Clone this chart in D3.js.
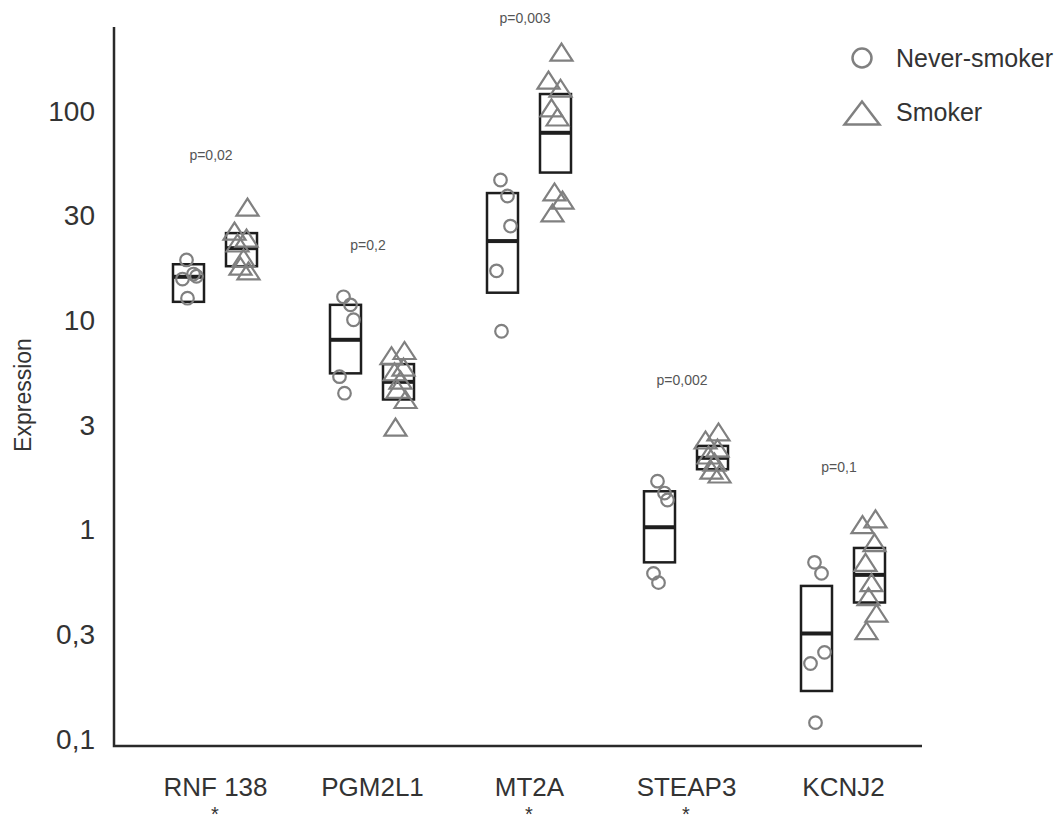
<!DOCTYPE html>
<html>
<head>
<meta charset="utf-8">
<script src="https://cdn.jsdelivr.net/npm/d3@7"></script>
<style>
  body { margin: 0; background: #fff; }
  svg { display: block; font-family: "Liberation Sans", Arial, sans-serif; }
</style>
</head>
<body>
<svg id="chart" width="1064" height="828"></svg>
<script>
// ---- data ----
const genes = ["RNF 138", "PGM2L1", "MT2A", "STEAP3", "KCNJ2"];
const significant = [true, false, true, true, false];
const pLabels = ["p=0,02", "p=0,2", "p=0,003", "p=0,002", "p=0,1"];

const neverSmoker = [
  [19.5, 16.7, 16.3, 15.8, 12.8],
  [13.0, 11.9, 10.1, 5.4, 4.5],
  [47, 39.4, 28.3, 17.3, 8.9],
  [1.71, 1.50, 1.39, 0.62, 0.56],
  [0.70, 0.62, 0.26, 0.23, 0.12]
];
const smoker = [
  [34.9, 26.8, 24.8, 23.5, 19.9, 18.2, 17.3],
  [7.2, 6.8, 6.0, 5.7, 5.2, 4.7, 4.2, 3.1],
  [192, 141, 129, 104, 94, 41.2, 37.7, 32.7],
  [2.94, 2.69, 2.46, 2.28, 2.11, 1.93, 1.85],
  [1.13, 1.06, 0.87, 0.70, 0.56, 0.48, 0.40, 0.33]
];
// box: [low, centre line, high]
const neverBox = [
  [12.3, 16.2, 18.6],
  [5.6, 8.1, 11.9],
  [13.6, 24.0, 40.7],
  [0.70, 1.03, 1.53],
  [0.17, 0.32, 0.54]
];
const smokerBox = [
  [18.2, 22.2, 26.2],
  [4.2, 5.1, 6.2],
  [51, 79, 121],
  [1.95, 2.21, 2.52],
  [0.45, 0.61, 0.82]
];

const yTickValues = [0.1, Math.sqrt(0.1), 1, Math.sqrt(10), 10, Math.sqrt(1000), 100];
const yTickLabels = ["0,1", "0,3", "1", "3", "10", "30", "100"];
const groups = ["Never-smoker", "Smoker"];

// ---- layout ----
const plot = { left: 114, right: 922, top: 27, bottom: 746 };
const POINT_COLOR = "#808080";
const BOX_COLOR = "#1e1e1e";
const TEXT_COLOR = "#333";
const BOX_W = 31;
// small horizontal spread so the dots don't sit on one line
const circleJitter = [-2, 5, 8, -6, -1];
const triJitter = [6, -7, 5, -4, 2, -1, 7, -3];

const svg = d3.select("#chart");

const x = d3.scalePoint().domain(genes).range([215, 843]);
const sub = d3.scalePoint().domain(groups).range([-26.5, 26.5]);
const y = d3.scaleLog().domain([0.0928, 253]).range([plot.bottom, plot.top]);

const triPath = (cx, cy, w, h) =>
  `M${cx - w / 2},${cy + h / 2}L${cx},${cy - h / 2}L${cx + w / 2},${cy + h / 2}Z`;

// y axis
const yAxis = svg.append("g")
  .attr("transform", `translate(${plot.left},0)`)
  .call(d3.axisLeft(y).tickValues(yTickValues)
    .tickFormat((d, i) => yTickLabels[i]).tickSize(0).tickSizeOuter(0).tickPadding(19));
yAxis.select(".domain").remove();
yAxis.selectAll("text").attr("font-size", 28).attr("fill", TEXT_COLOR)
  .attr("font-family", "Liberation Sans, Arial, sans-serif");

// axis lines
svg.append("path")
  .attr("d", `M${plot.left},${plot.top}V${plot.bottom}H${plot.right}`)
  .attr("fill", "none").attr("stroke", "#2a2a2a").attr("stroke-width", 2.5);

// x labels
const xAxis = svg.append("g")
  .attr("transform", `translate(0,${plot.bottom})`)
  .call(d3.axisBottom(x).tickSize(0).tickPadding(32));
xAxis.select(".domain").remove();
xAxis.selectAll("text").attr("font-size", 26).attr("fill", TEXT_COLOR)
  .attr("font-family", "Liberation Sans, Arial, sans-serif");

// significance stars
svg.append("g").selectAll("text")
  .data(genes.filter((g, i) => significant[i]))
  .join("text")
  .attr("x", d => x(d))
  .attr("y", 821)
  .attr("text-anchor", "middle")
  .attr("font-size", 20)
  .attr("fill", TEXT_COLOR)
  .text("*");

// y title
svg.append("text")
  .attr("transform", `translate(31,395) rotate(-90)`)
  .attr("text-anchor", "middle")
  .attr("font-size", 23)
  .attr("fill", TEXT_COLOR)
  .text("Expression");

// boxes
const boxes = [];
genes.forEach((g, i) => {
  boxes.push({ gene: g, group: groups[0], v: neverBox[i] });
  boxes.push({ gene: g, group: groups[1], v: smokerBox[i] });
});
const bx = d => x(d.gene) + sub(d.group);
svg.append("g").selectAll("rect")
  .data(boxes)
  .join("rect")
  .attr("x", d => bx(d) - BOX_W / 2)
  .attr("y", d => y(d.v[2]))
  .attr("width", BOX_W)
  .attr("height", d => y(d.v[0]) - y(d.v[2]))
  .attr("fill", "none")
  .attr("stroke", BOX_COLOR)
  .attr("stroke-width", 2.5);
svg.append("g").selectAll("line")
  .data(boxes)
  .join("line")
  .attr("x1", d => bx(d) - BOX_W / 2)
  .attr("x2", d => bx(d) + BOX_W / 2)
  .attr("y1", d => y(d.v[1]))
  .attr("y2", d => y(d.v[1]))
  .attr("stroke", BOX_COLOR)
  .attr("stroke-width", 4);

// points
const circles = [], tris = [];
genes.forEach((g, i) => {
  neverSmoker[i].forEach((v, j) => circles.push({ gene: g, v, j }));
  smoker[i].forEach((v, j) => tris.push({ gene: g, v, j }));
});
svg.append("g").selectAll("circle")
  .data(circles)
  .join("circle")
  .attr("cx", d => x(d.gene) + sub(groups[0]) + circleJitter[d.j % circleJitter.length])
  .attr("cy", d => y(d.v))
  .attr("r", 6.3)
  .attr("fill", "none")
  .attr("stroke", POINT_COLOR)
  .attr("stroke-width", 2.2);
svg.append("g").selectAll("path")
  .data(tris)
  .join("path")
  .attr("d", d => triPath(x(d.gene) + sub(groups[1]) + triJitter[d.j % triJitter.length], y(d.v), 22, 17))
  .attr("fill", "none")
  .attr("stroke", POINT_COLOR)
  .attr("stroke-width", 2.2)
  .attr("stroke-linejoin", "miter");

// p-values, placed above the highest mark of each gene
svg.append("g").selectAll("text")
  .data(genes)
  .join("text")
  .attr("x", d => x(d) - 4)
  .attr("y", (d, i) => {
    const top = d3.max([...neverSmoker[i], ...smoker[i]]);
    return Math.max(18, y(top) - 52);
  })
  .attr("dy", "0.35em")
  .attr("text-anchor", "middle")
  .attr("font-size", 14)
  .attr("fill", "#555")
  .text((d, i) => pLabels[i]);

// legend
const legend = svg.append("g");
legend.append("circle")
  .attr("cx", 862).attr("cy", 58).attr("r", 9.5)
  .attr("fill", "none").attr("stroke", POINT_COLOR).attr("stroke-width", 2.5);
legend.append("path")
  .attr("d", triPath(862, 113, 35, 23))
  .attr("fill", "none").attr("stroke", POINT_COLOR).attr("stroke-width", 2.5);
legend.selectAll("text")
  .data(groups)
  .join("text")
  .attr("x", 896)
  .attr("y", (d, i) => 58 + i * 54)
  .attr("dy", "0.35em")
  .attr("font-size", 25)
  .attr("fill", TEXT_COLOR)
  .text(d => d);
</script>
</body>
</html>
